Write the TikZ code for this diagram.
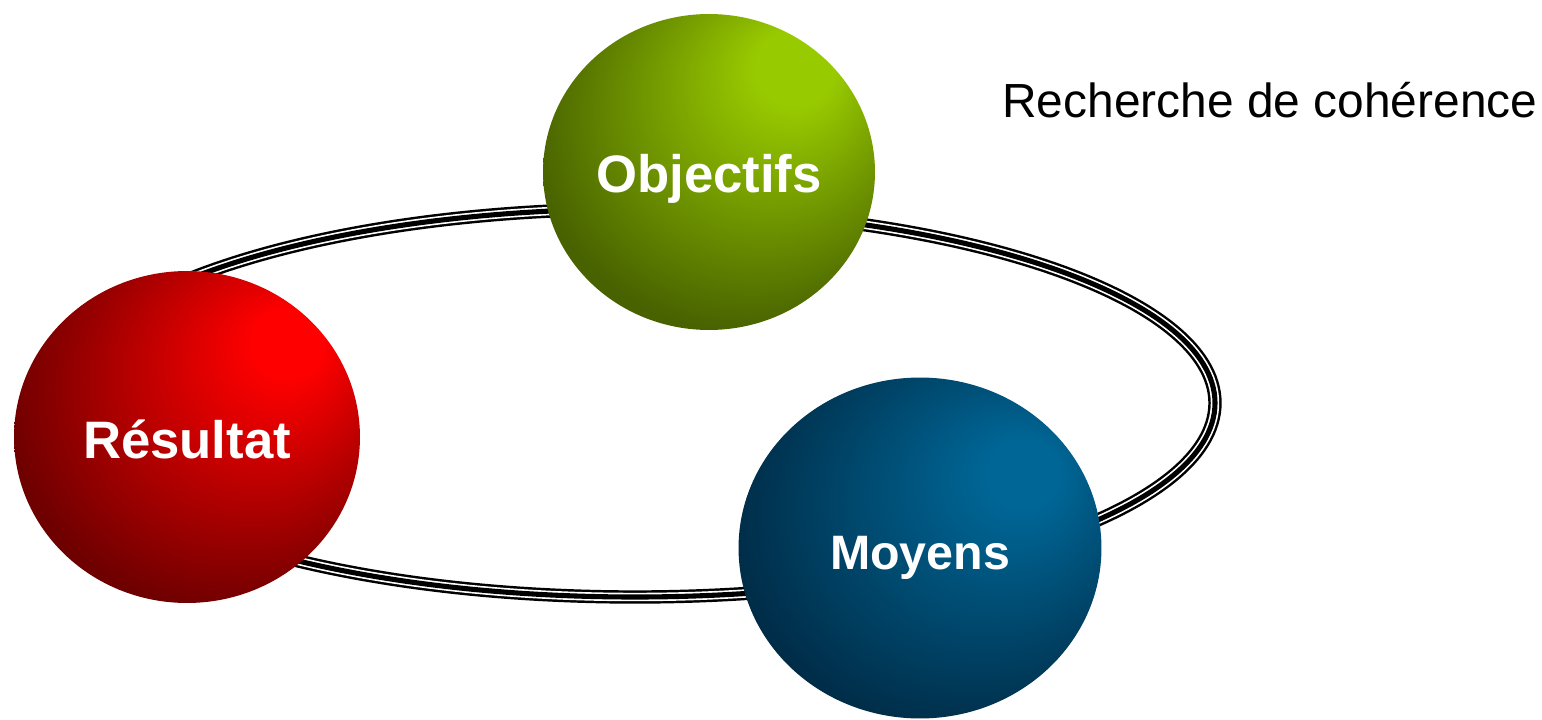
\documentclass[tikz,border=0pt]{standalone}
\usepackage{fontspec}
\setmainfont{Liberation Sans}
\usetikzlibrary{shapes.geometric}
\definecolor{grL}{RGB}{152,202,0}
\definecolor{grD}{RGB}{72,98,0}
\definecolor{reL}{RGB}{255,0,0}
\definecolor{reD}{RGB}{110,0,0}
\definecolor{blL}{RGB}{0,102,150}
\definecolor{blD}{RGB}{0,42,68}
\pgfdeclareradialshading{objsh}{\pgfpoint{14.8bp}{18.8bp}}{color(0bp)=(grL); color(6bp)=(grL); color(32bp)=(grD); color(50bp)=(grD)}
\pgfdeclareradialshading{ressh}{\pgfpoint{16.3bp}{15.8bp}}{color(0bp)=(reL); color(5bp)=(reL); color(32bp)=(reD); color(50bp)=(reD)}
\pgfdeclareradialshading{moysh}{\pgfpoint{15.9bp}{12.2bp}}{color(0bp)=(blL); color(5bp)=(blL); color(33bp)=(blD); color(50bp)=(blD)}
\tikzset{
  ball/.style={ellipse, inner sep=0pt, outer sep=0pt, shade},
  lbl/.style={text=white, font=\fontsize{30}{36}\selectfont\bfseries, anchor=base, inner sep=0pt},
  ringA/.style={draw=black, line width=7.6pt},
  ringB/.style={draw=white, line width=4.8pt},
  ringC/.style={draw=black, line width=2.9pt}
}
\begin{document}
\begin{tikzpicture}[x=0.02cm, y=-0.02cm]
\useasboundingbox (0,0) rectangle (1542,720);
% ring
\coordinate (rc) at (635,403);
\draw[ringA] (rc) ellipse [x radius=580, y radius=194];
\draw[ringB] (rc) ellipse [x radius=580, y radius=194];
\draw[ringC] (rc) ellipse [x radius=580, y radius=194];
% balls
\node[ball, shading=objsh, minimum width=6.64cm, minimum height=6.32cm] (obj) at (709,172) {};
\node[ball, shading=ressh, minimum width=6.92cm, minimum height=6.64cm] (res) at (187,437) {};
\node[ball, shading=moysh, minimum width=7.26cm, minimum height=6.82cm] (moy) at (920,548) {};
% labels
\node[lbl] (objt) at ([yshift=-0.42cm]obj.center) {Objectifs};
\node[lbl] (rest) at ([yshift=-0.42cm]res.center) {Résultat};
\node[lbl, font=\fontsize{27.5}{33}\selectfont\bfseries] (moyt) at ([yshift=-0.42cm]moy.center) {Moyens};
\node[anchor=base west, inner sep=0pt, font=\fontsize{27.25}{32}\selectfont] (title) at (1002,117) {Recherche de cohérence};
\end{tikzpicture}
\end{document}
